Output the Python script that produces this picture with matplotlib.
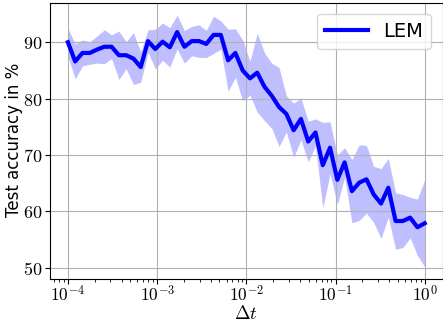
import numpy as np
import matplotlib
matplotlib.use('Agg')
import matplotlib.pyplot as plt
from matplotlib.ticker import FuncFormatter

plt.rcParams['mathtext.fontset'] = 'cm'

# шаги по времени (логарифмическая сетка) и точность LEM
dt = np.logspace(-4, 0, 50)
acc_mean = [90.0, 86.6, 88.1, 88.1, 88.7, 89.2, 89.2, 87.7, 87.7, 87.1,
            85.6, 90.2, 88.8, 90.1, 89.1, 91.8, 89.2, 90.2, 90.2, 89.7,
            91.3, 91.3, 86.8, 88.1, 85.0, 83.6, 84.6, 82.1, 80.5, 78.5,
            77.3, 74.4, 76.4, 72.4, 74.0, 68.2, 71.3, 65.6, 68.7, 63.6,
            65.1, 65.7, 63.0, 61.4, 64.2, 58.3, 58.3, 58.9, 57.2, 57.9]
acc_std = [2.5, 3.1, 2.3, 2.0, 2.4, 3.0, 2.1, 4.3, 2.4, 4.6,
           2.7, 2.0, 3.5, 3.3, 3.5, 3.0, 2.9, 2.6, 2.9, 2.4,
           3.3, 2.5, 5.5, 4.3, 5.4, 3.0, 7.0, 6.0, 5.8, 7.0,
           3.2, 4.8, 3.7, 3.6, 2.4, 7.6, 4.6, 4.4, 2.6, 5.6,
           6.7, 6.0, 5.0, 6.2, 5.2, 5.0, 4.7, 3.6, 5.0, 7.7]

mean = np.array(acc_mean)
std = np.array(acc_std)

fig = plt.figure(figsize=(4.43, 3.24), dpi=100)
ax = fig.add_axes([0.113, 0.138, 0.886, 0.854])

ax.fill_between(dt, mean - std, mean + std, color='blue', alpha=0.25, linewidth=0)
ax.plot(dt, mean, color='blue', linewidth=3, label='LEM')
ax.set_xscale('log')

ax.xaxis.set_major_formatter(FuncFormatter(lambda v, p: r'$10^{%d}$' % round(np.log10(v))))
ax.yaxis.set_major_formatter(FuncFormatter(lambda v, p: r'$%d$' % v))
ax.set_yticks([50, 60, 70, 80, 90])
ax.tick_params(axis='y', labelsize=13, pad=2)
ax.tick_params(axis='x', labelsize=12.5, pad=1)

ax.set_xlabel(r'$\Delta t$', fontsize=13.5)
ax.xaxis.set_label_coords(0.5, -0.09)
ax.set_ylabel('Test accuracy in %', fontsize=12, va='center')
ax.yaxis.set_label_coords(-0.093, 0.505)
ax.grid(True)
ax.legend(loc='upper right', fontsize=14, handlelength=2.2, borderaxespad=0.6)

fig.savefig('out.png', dpi=100)
